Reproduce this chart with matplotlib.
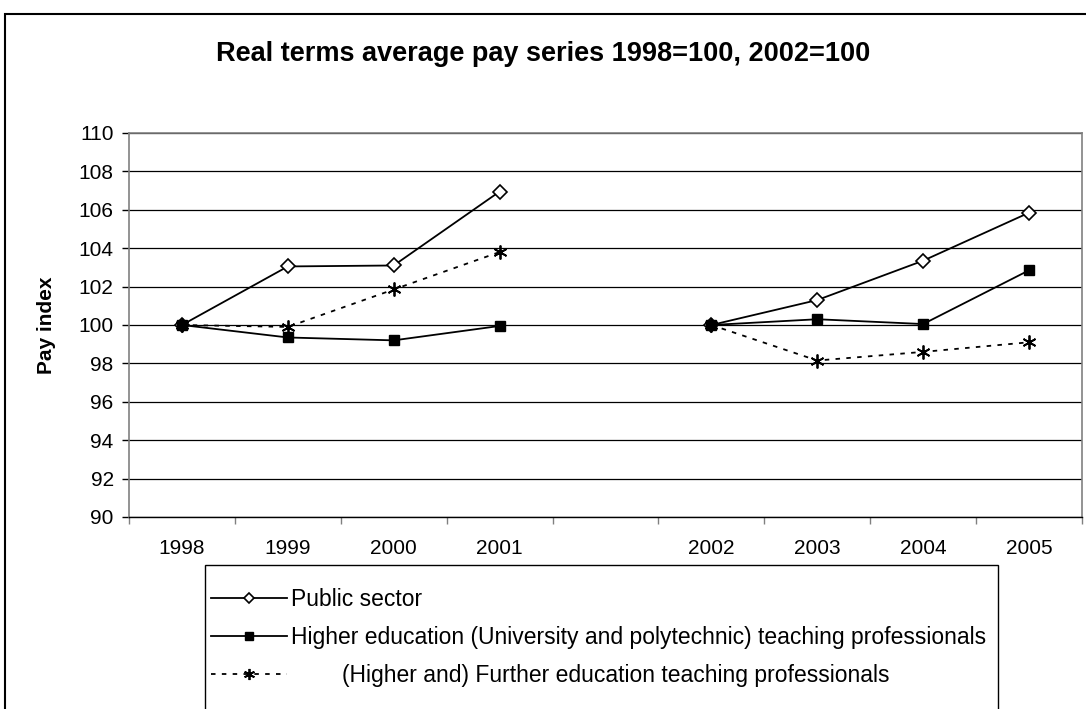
import numpy as np
import matplotlib
matplotlib.use("Agg")
import matplotlib.pyplot as plt
from matplotlib.patches import Rectangle
from matplotlib.ticker import FixedLocator, NullFormatter

plt.rcParams['font.family'] = ['Liberation Sans', 'DejaVu Sans']

categories = ['1998', '1999', '2000', '2001', '', '2002', '2003', '2004', '2005']
public_sector = [100, 103.05, 103.1, 106.95, np.nan, 100, 101.3, 103.35, 105.85]
higher_ed = [100, 99.35, 99.2, 99.95, np.nan, 100, 100.3, 100.05, 102.85]
further_ed = [100, 99.9, 101.85, 103.8, np.nan, 100, 98.15, 98.6, 99.1]
y_ticks = [90, 92, 94, 96, 98, 100, 102, 104, 106, 108, 110]

labels = ['Public sector',
          'Higher education (University and polytechnic) teaching professionals',
          '        (Higher and) Further education teaching professionals']
title = 'Real terms average pay series 1998=100, 2002=100'

W, H = 1086, 709
fig = plt.figure(figsize=(W / 100, H / 100), dpi=100)
fig.patch.set_facecolor('white')

L, R, T, B = 129, 1082, 133, 517
ax = fig.add_axes([L / W, 1 - B / H, (R - L) / W, (B - T) / H])

x = np.arange(len(categories))
ax.plot(x, public_sector, color='black', lw=1.3, marker='D', ms=7,
        mfc='white', mec='black', mew=1.2, label=labels[0], zorder=3)
ax.plot(x, higher_ed, color='black', lw=1.3, marker='s', ms=7,
        mfc='black', mec='black', label=labels[1], zorder=3)
ax.plot(x, further_ed, color='black', lw=1.3, ls=(0, (2.5, 3.5)), marker=(6, 2, 0),
        ms=10, mfc='black', mec='black', mew=1.3, label=labels[2], zorder=4)

ax.set_xlim(-0.5, len(categories) - 0.5)
ax.set_ylim(90, 110)
ax.set_yticks(y_ticks)
ax.set_yticklabels([str(v) for v in y_ticks])
ax.yaxis.grid(True, color='black', lw=0.9)
ax.set_axisbelow(True)

ax.xaxis.set_major_locator(FixedLocator(np.arange(len(categories) + 1) - 0.5))
ax.xaxis.set_major_formatter(NullFormatter())
ax.xaxis.set_minor_locator(FixedLocator(x))
ax.set_xticklabels(categories, minor=True)
ax.tick_params(axis='x', which='minor', length=0, labelsize=15, pad=16)
ax.tick_params(axis='x', which='major', length=5, width=1, color='#808080', direction='out')
ax.tick_params(axis='y', length=5, width=1, color='black', labelsize=15, pad=6)

for s in ['left', 'right', 'top']:
    ax.spines[s].set_color('#808080')
    ax.spines[s].set_linewidth(1.2)
ax.spines['bottom'].set_color('black')
ax.spines['bottom'].set_linewidth(1.0)

ax.set_ylabel('Pay index', fontsize=15, fontweight='bold')
ax.yaxis.set_label_coords(-(129 - 56) / (R - L), 0.5)

fig.text(0.5, 1 - 54 / H, title, ha='center', va='center', fontsize=19.5, fontweight='bold')

leg = fig.legend(loc='upper left', bbox_to_anchor=(211 / W, 1 - 588 / H),
                 fontsize=16.5, frameon=False, markerscale=0.8,
                 handlelength=3.3, handletextpad=0.2, borderpad=0,
                 labelspacing=0.65, borderaxespad=0)

# legend box (Excel-style, bottom edge runs off the canvas)
fig.patches.append(Rectangle((205 / W, -0.05), (998 - 205) / W, 0.05 + (1 - 565 / H),
                             transform=fig.transFigure, fill=False,
                             edgecolor='black', lw=1.0, zorder=1))

fig.patches.append(Rectangle((5 / W, -0.1), 1.2, 1 - 14 / H + 0.1, transform=fig.transFigure,
                             fill=False, edgecolor='black', lw=1.5, zorder=0))

fig.savefig('out.png', dpi=100, facecolor='white')
